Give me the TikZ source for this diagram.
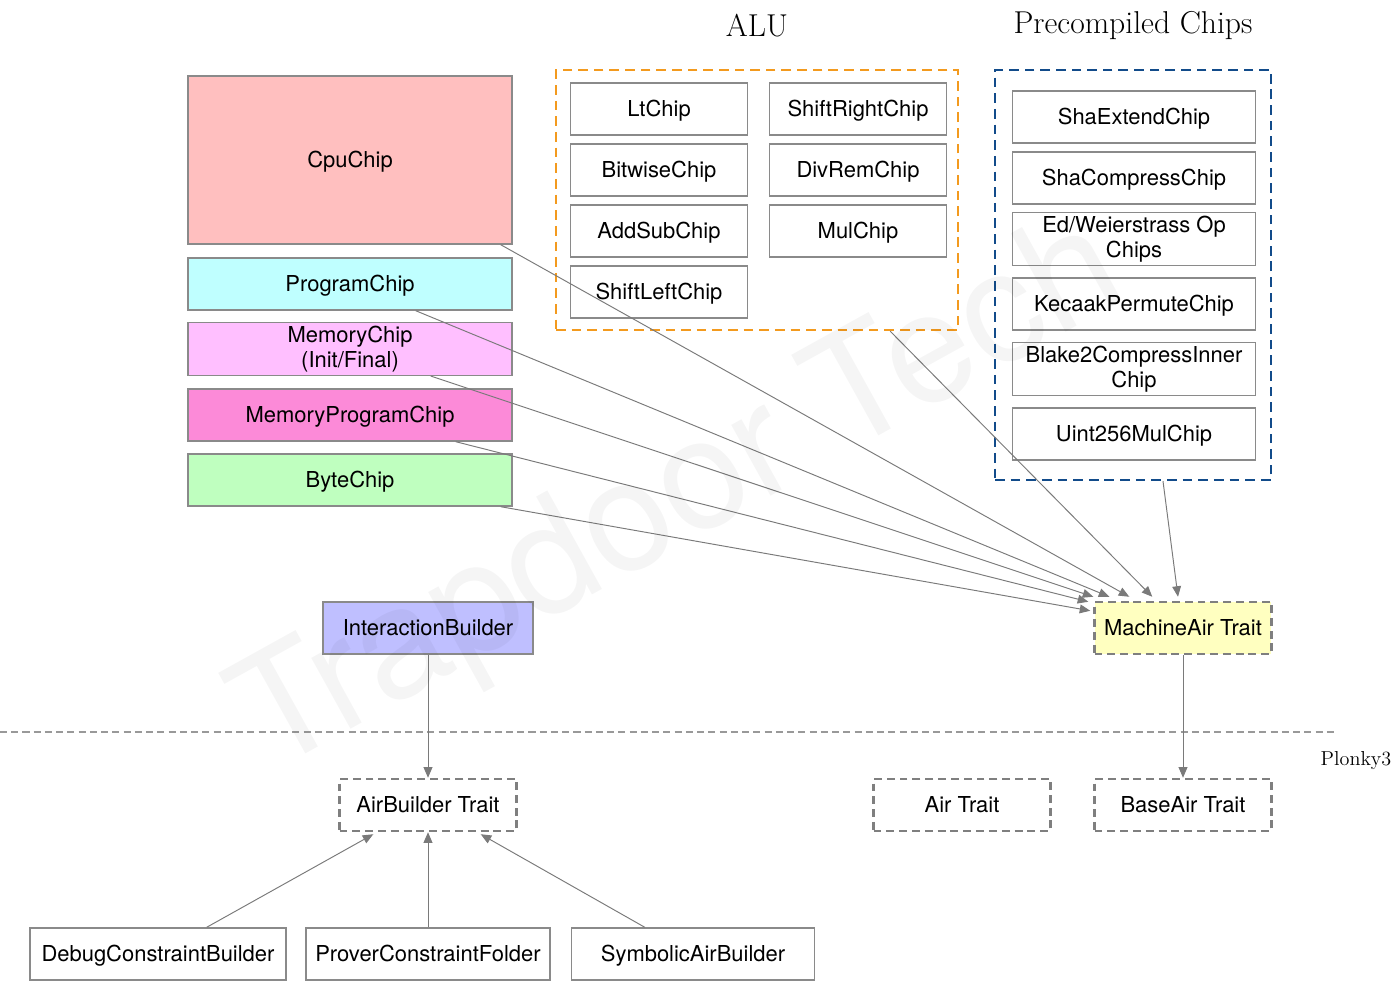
\documentclass[tikz,border=0pt]{standalone}
\usepackage{fontspec}
\setsansfont{TeX Gyre Heros}
\usetikzlibrary{arrows.meta,calc}
\definecolor{boxgray}{HTML}{8A8A8A}
\definecolor{linegray}{HTML}{7A7A7A}
\definecolor{traitgray}{HTML}{7F7F7F}
\definecolor{aluorange}{HTML}{F39A1E}
\definecolor{precnavy}{HTML}{124B8A}
\definecolor{cpupink}{HTML}{FFBFBF}
\definecolor{progcyan}{HTML}{BFFFFF}
\definecolor{memlilac}{HTML}{FFBFFF}
\definecolor{memprogpink}{HTML}{FC8AD8}
\definecolor{bytegreen}{HTML}{BFFFBF}
\definecolor{interblue}{HTML}{BFBFFF}
\definecolor{machineyellow}{HTML}{FFFFC0}
\tikzset{every node/.style={font=\sffamily\fontsize{12.5}{14}\selectfont, align=center, inner sep=2pt},
  chip/.style={draw=boxgray, line width=0.8pt, fill=white, minimum height=1.04cm, execute at begin node={\rule[-2.5pt]{0pt}{14pt}}},
  mainchip/.style={chip, minimum width=6.48cm},
  aluchip/.style={chip, minimum width=3.54cm},
  precchip/.style={chip, minimum width=4.86cm},
  trait/.style={chip, draw=traitgray, line width=1.4pt, dash pattern=on 4.5pt off 2.8pt, minimum width=3.54cm, fill=none},
  group/.style={line width=1.4pt, dash pattern=on 5.5pt off 3.4pt},
  link/.style={draw=linegray, line width=0.55pt, -{Triangle[length=6pt,width=5pt]}},
  title/.style={font=\rmfamily\fontsize{18}{21}\selectfont}}

\begin{document}
\begin{tikzpicture}[x=0.02cm, y=-0.02cm]
  \useasboundingbox (0,0) rectangle (1400,982);

  % titles
  \node[title] (alutitle) at (757,26) {ALU};
  \node[title] (prectitle) at (1133,26) {Precompiled Chips};
  \node[font=\rmfamily\fontsize{11.5}{13}\selectfont] (plonky) at (1356,761) {Plonky3};

  % groups
  \node[group, draw=aluorange, minimum width=8.04cm, minimum height=5.2cm] (alu) at (757,200) {};
  \node[group, draw=precnavy, minimum width=5.52cm, minimum height=8.2cm] (prec) at (1133,275) {};

  % main chips
  \node[mainchip, fill=cpupink, minimum height=3.36cm] (cpu) at (350,160) {CpuChip};
  \node[mainchip, fill=progcyan] (prog) at (350,284) {ProgramChip};
  \node[mainchip, fill=memlilac] (mem) at (350,349) {MemoryChip\\(Init/Final)};
  \node[mainchip, fill=memprogpink] (memprog) at (350,415) {MemoryProgramChip};
  \node[mainchip, fill=bytegreen] (byte) at (350,480) {ByteChip};

  % alu chips
  \node[aluchip] (lt) at (659,109) {LtChip};
  \node[aluchip] (shr) at (858,109) {ShiftRightChip};
  \node[aluchip] (bitwise) at (659,170) {BitwiseChip};
  \node[aluchip] (divrem) at (858,170) {DivRemChip};
  \node[aluchip] (addsub) at (659,231) {AddSubChip};
  \node[aluchip] (mul) at (858,231) {MulChip};
  \node[aluchip] (shl) at (659,292) {ShiftLeftChip};

  % precompiled chips
  \node[precchip] (shaext) at (1134,117) {ShaExtendChip};
  \node[precchip] (shacomp) at (1134,178) {ShaCompressChip};
  \node[precchip] (edw) at (1134,239) {Ed/Weierstrass Op\\Chips};
  \node[precchip] (keccak) at (1134,304) {KecaakPermuteChip};
  \node[precchip] (blake) at (1134,369) {Blake2CompressInner\\Chip};
  \node[precchip] (uint) at (1134,434) {Uint256MulChip};

  % traits and builders
  \node[trait, fill=machineyellow] (machine) at (1183,628) {MachineAir Trait};
  \node[chip, fill=interblue, minimum width=4.2cm] (inter) at (428,628) {InteractionBuilder};
  \node[trait] (airb) at (428,805) {AirBuilder Trait};
  \node[trait] (air) at (962,805) {Air Trait};
  \node[trait] (baseair) at (1183,805) {BaseAir Trait};
  \node[chip, minimum width=5.12cm] (debug) at (158,954) {DebugConstraintBuilder};
  \node[chip, minimum width=4.88cm] (prover) at (428,954) {ProverConstraintFolder};
  \node[chip, minimum width=4.86cm] (symb) at (693,954) {SymbolicAirBuilder};

  % Plonky3 border
  \draw[draw=traitgray!80, line width=0.6pt, dash pattern=on 4pt off 2.4pt] (0,732) -- (1338,732);

  % links into MachineAir
  \draw[link] ($(cpu.south east)+(-12,0)$) -- ($(machine.north west)+(36,-4)$);
  \draw[link] ($(prog.south east)+(-97,0)$) -- ($(machine.north west)+(16,-4)$);
  \draw[link] ($(mem.south east)+(-82,0)$) -- ($(machine.north west)+(0,-4)$);
  \draw[link] ($(memprog.south east)+(-57,0)$) -- ($(machine.north west)+(-5,1)$);
  \draw[link] ($(byte.south east)+(-12,0)$) -- ($(machine.north west)+(-3,10)$);
  \draw[link] ($(alu.south east)+(-69,0)$) -- ($(machine.north west)+(59,-4)$);
  \draw[link] ($(prec.south)+(30,0)$) -- ($(machine.north)+(-5,-4)$);
  \draw[link] (machine) -- (baseair);

  % links into AirBuilder
  \draw[link] (inter) -- (airb);
  \draw[link] ($(debug.north east)+(-80,0)$) -- ($(airb.south west)+(35,2)$);
  \draw[link] (prover) -- (airb);
  \draw[link] ($(symb.north west)+(74,0)$) -- ($(airb.south east)+(-37,2)$);

  % watermark
  \node[rotate=29, opacity=0.04, font=\sffamily\fontsize{88}{88}\selectfont] (mark) at (682,500) {Trapdoor Tech};
\end{tikzpicture}
\end{document}
